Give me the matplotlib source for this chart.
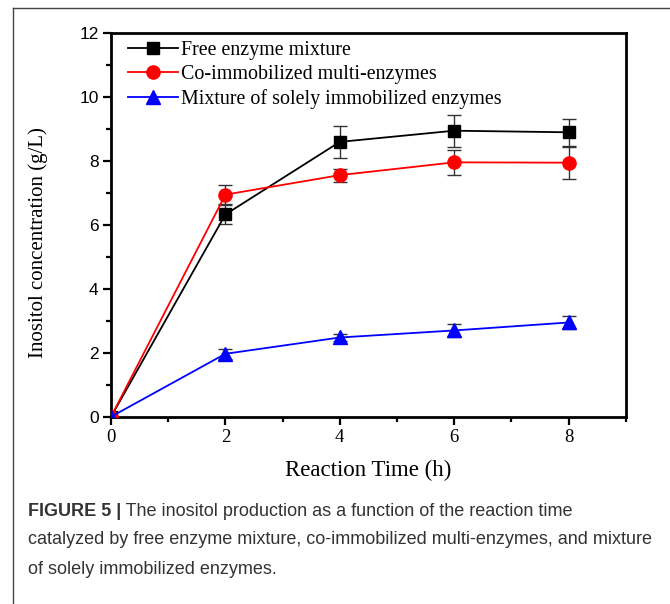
import matplotlib
matplotlib.use("Agg")
import matplotlib.pyplot as plt
from matplotlib.lines import Line2D
from matplotlib.ticker import MultipleLocator

time_h = [0, 2, 4, 6, 8]
free_mix = [0, 6.33, 8.6, 8.95, 8.9]
free_err = [0, 0.3, 0.5, 0.5, 0.42]
co_immob = [0, 6.95, 7.56, 7.96, 7.95]
co_err = [0, 0.3, 0.2, 0.4, 0.5]
solely = [0, 1.97, 2.48, 2.7, 2.95]
solely_err = [0, 0.15, 0.12, 0.2, 0.2]

labels = ["Free enzyme mixture", "Co-immobilized multi-enzymes",
          "Mixture of solely immobilized enzymes"]
caption_bold = "FIGURE 5 |"
caption_lines = [" The inositol production as a function of the reaction time",
                 "catalyzed by free enzyme mixture, co-immobilized multi-enzymes, and mixture",
                 "of solely immobilized enzymes."]

serif = ["Liberation Serif", "DejaVu Serif"]
sans = ["Liberation Sans", "DejaVu Sans"]

fig = plt.figure(figsize=(6.70, 6.04), dpi=100)
ax = fig.add_axes([0.1657, 0.310, 0.7683, 0.635])

series = [
    (free_mix, free_err, "black", "s", 8.5),
    (co_immob, co_err, "red", "o", 9.5),
    (solely, solely_err, "blue", "^", 9.5),
]
for (vals, err, col, mk, ms), lab in zip(series, labels):
    ax.errorbar(time_h, vals, yerr=err, color=col, ecolor="#333333",
                elinewidth=1.0, capsize=5, capthick=1.0, zorder=3, fmt="none")
    ax.plot(time_h, vals, color=col, marker=mk, markersize=ms, linewidth=1.3,
            label=lab, zorder=4)

ax.set_xlim(0, 9)
ax.set_ylim(0, 12)
ax.xaxis.set_major_locator(MultipleLocator(2))
ax.xaxis.set_minor_locator(MultipleLocator(1))
ax.yaxis.set_major_locator(MultipleLocator(2))
ax.yaxis.set_minor_locator(MultipleLocator(1))
ax.tick_params(which="major", direction="out", length=6, width=1.6, pad=3)
ax.tick_params(which="minor", direction="out", length=3.5, width=1.6)
ax.tick_params(axis="x", which="both", top=False)
ax.tick_params(axis="y", which="both", right=False)
for s in ax.spines.values():
    s.set_linewidth(2.0)

for t in ax.get_xticklabels():
    t.set_fontfamily(serif)
    t.set_fontsize(13.5)
for t in ax.get_yticklabels():
    t.set_fontfamily(sans)
    t.set_fontsize(12.5)

ax.set_xlabel("Reaction Time (h)", fontfamily=serif, fontsize=16.5, labelpad=10)
ax.set_ylabel("Inositol concentration (g/L)", fontfamily=serif, fontsize=15)
ax.yaxis.set_label_coords(-0.122, 0.455)

leg = ax.legend(loc="upper left", frameon=False, prop={"family": serif, "size": 14.4},
                handlelength=2.5, handletextpad=0.15, labelspacing=0.245,
                borderaxespad=0.0, borderpad=0.0, bbox_to_anchor=(0.033, 0.979))

# outer frame (left and top lines)
fig.add_artist(Line2D([13/670, 13/670], [0, 1 - 8/604], transform=fig.transFigure,
                      color="#444444", linewidth=1.0))
fig.add_artist(Line2D([13/670, 1], [1 - 8/604, 1 - 8/604], transform=fig.transFigure,
                      color="#444444", linewidth=1.0))

cap_font = ["Liberation Sans Narrow", "Liberation Sans", "DejaVu Sans"]
y0 = 1 - 511/604
dy = 29/604
t = fig.text(28/670, y0, caption_bold, fontfamily=cap_font, fontweight="bold",
             fontsize=13, color="#333333", va="center")
fig.canvas.draw()
bb = t.get_window_extent()
x1 = bb.x1 / fig.bbox.width
fig.text(x1, y0, caption_lines[0], fontfamily=cap_font, fontsize=13,
         color="#333333", va="center")
for i, line in enumerate(caption_lines[1:], start=1):
    fig.text(28/670, y0 - i*dy, line, fontfamily=cap_font, fontsize=13,
             color="#333333", va="center")

fig.savefig("out.png", dpi=100)
